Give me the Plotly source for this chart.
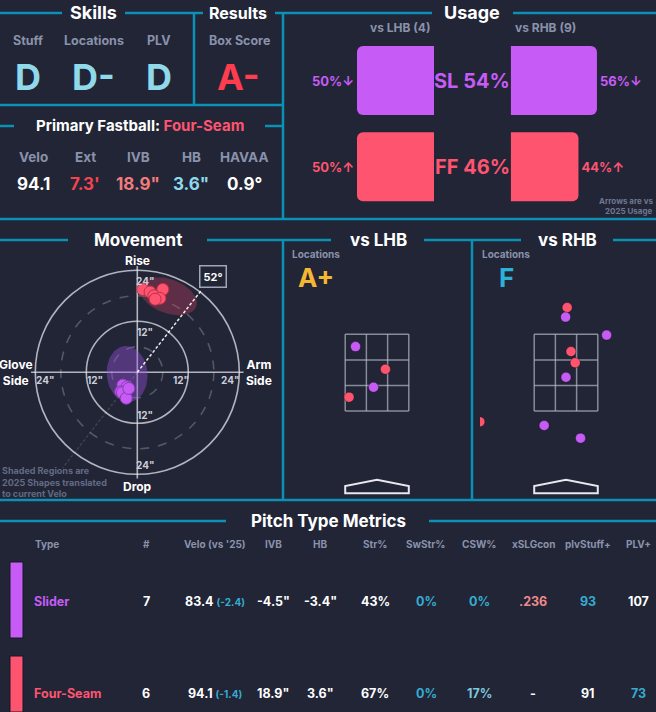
import numpy as np
import plotly.graph_objects as go

W, H = 656, 712

# ---- data ----
skill_names = ["Stuff", "Locations", "PLV"]
skill_grades = ["D", "D-", "D"]
box_score = "A-"

fb_name = "Four-Seam"
fb_labels = ["Velo", "Ext", "IVB", "HB", "HAVAA"]
fb_values = ["94.1", "7.3'", '18.9"', '3.6"', "0.9°"]

pitch_codes = ["SL", "FF"]
usage_all = [54, 46]
usage_lhb = [50, 50]
usage_rhb = [56, 44]
trend_lhb = ["down", "up"]
trend_rhb = ["down", "up"]
n_lhb, n_rhb = 4, 9

# movement (inches)
sl_hb = [-3.4, -2.4, -3.9, -2.8, -3.5, -2.6, -2.0]
sl_ivb = [-3.0, -3.4, -4.6, -5.4, -4.8, -6.1, -3.8]
ff_hb = [1.3, 3.0, 6.0, 3.9, 5.3, 4.2]
ff_ivb = [19.5, 18.9, 19.5, 18.0, 17.4, 17.2]
# 2025 shapes: center hb, center ivb, semi-axis a, semi-axis b, tilt deg
sl_shape = [-2.4, -0.4, 6.6, 4.8, 95]
ff_shape = [7.3, 17.9, 7.0, 4.0, -20]
arm_angle = 52

# locations (feet)
lhb_type = ["SL", "FF", "SL", "FF"]
lhb_x = [-0.56, 0.22, -0.09, -0.73]
lhb_z = [3.18, 2.59, 2.12, 1.86]
rhb_type = ["FF", "SL", "SL", "FF", "FF", "SL", "FF", "SL", "SL"]
rhb_x = [0.03, -0.01, 1.06, 0.13, 0.24, 0.0, -2.25, -0.57, 0.38]
rhb_z = [4.20, 3.95, 3.48, 3.05, 2.76, 2.38, 1.22, 1.12, 0.79]
loc_grades = ["A+", "F"]

# table
table_cols = ["Type", "#", "Velo (vs '25)", "IVB", "HB", "Str%", "SwStr%",
              "CSW%", "xSLGcon", "plvStuff+", "PLV+"]
pitch_names = ["Slider", "Four-Seam"]
counts = [7, 6]
velo = [83.4, 94.1]
velo_diff = [-2.4, -1.4]
ivb = [-4.5, 18.9]
hb = [-3.4, 3.6]
str_pct = [43, 67]
swstr_pct = [0, 0]
csw_pct = [0, 17]
xslgcon = [".236", "-"]
plv_stuff = [93, 91]
plv_plus = [107, 73]

# ---- styles ----
BG = "#212536"
TEAL = "#0b91b5"
GRAY = "#8a92ab"
WHITE = "#ffffff"
CYAN = "#8fd9ea"
BLUE = "#35acd0"
SL_C = "#c65cf5"
FF_C = "#ff5470"
FONT = "Inter"
COLORS = {"SL": SL_C, "FF": FF_C}
fb_colors = [WHITE, "#f2444f", "#f27c7c", CYAN, WHITE]
row_colors = [
    [WHITE, WHITE, WHITE, WHITE, WHITE, BLUE, BLUE, "#f08a8a", BLUE, WHITE],
    [WHITE, WHITE, WHITE, WHITE, WHITE, BLUE, "#7fc9dc", WHITE, WHITE, BLUE],
]

fig = go.Figure()


def px(x):
    return x / W


def py(y):
    return 1 - y / H


def txt(x, y, s, size, color, bold=True, xanchor="center", align="center"):
    fig.add_annotation(x=px(x), y=py(y), xref="paper", yref="paper", text=s,
                       showarrow=False, xanchor=xanchor, yanchor="middle", align=align,
                       font=dict(size=size, color=color, family=FONT,
                                 weight="bold" if bold else "normal"))


def hline(y, x0, x1):
    fig.add_shape(type="line", xref="paper", yref="paper", x0=px(x0), x1=px(x1),
                  y0=py(y), y1=py(y), line=dict(color=TEAL, width=2.5))


def vline(x, y0, y1):
    fig.add_shape(type="line", xref="paper", yref="paper", x0=px(x), x1=px(x),
                  y0=py(y0), y1=py(y1), line=dict(color=TEAL, width=2.5))


# ---- frame lines ----
for y, x0, x1 in [(13, 0, 62), (13, 125, 203), (13, 275, 432), (13, 513, 656),
                  (105, 0, 283), (126, 0, 14), (126, 265, 283), (219, 0, 656),
                  (240, 0, 68), (240, 207, 331), (240, 424, 521), (240, 613, 656),
                  (500, 0, 656), (521, 0, 226), (521, 429, 656)]:
    hline(y, x0, x1)
for x, y0, y1 in [(194, 13, 105), (283, 13, 219), (283, 240, 500), (472, 240, 500)]:
    vline(x, y0, y1)

# ---- skills / results ----
txt(94, 13, "Skills", 18, WHITE)
txt(238, 13, "Results", 16, WHITE)
for i, (name, grade) in enumerate(zip(skill_names, skill_grades)):
    cx = [28, 94, 159][i]
    txt(cx, 40, name, 12.5, GRAY)
    txt(cx, 77, grade, 36, CYAN)
txt(239, 40, "Box Score", 12.5, GRAY)
txt(238, 77, box_score, 36, "#ff3d4e")

txt(140, 126, f"Primary Fastball: <span style='color:{FF_C}'>{fb_name}</span>", 15, WHITE)
for i, (lab, val) in enumerate(zip(fb_labels, fb_values)):
    cx = [33, 85, 138, 191, 244][i]
    txt(cx, 157, lab, 13.5, GRAY)
    txt(cx, 184, val, 17, fb_colors[i])

# ---- usage ----
txt(472, 13, "Usage", 18, WHITE)
txt(400, 28, f"vs LHB ({n_lhb})", 12, GRAY)
txt(545, 28, f"vs RHB ({n_rhb})", 12, GRAY)
arrow = {"down": "↓", "up": "↑"}
for vals, trend, ax in [(usage_lhb, trend_lhb, "2"), (usage_rhb, trend_rhb, "3")]:
    fig.add_trace(go.Bar(
        x=vals, y=pitch_codes, orientation="h", xaxis="x" + ax, yaxis="y" + ax,
        marker=dict(color=[COLORS[c] for c in pitch_codes], cornerradius=6, line_width=0),
        text=[f"{v}%{arrow[t]}" for v, t in zip(vals, trend)],
        textposition="outside", cliponaxis=False,
        textfont=dict(size=13, color=[COLORS[c] for c in pitch_codes], family=FONT, weight="bold"),
        hoverinfo="skip"))
# centre labels sit in the middle of each category band
u_top, u_bot = 37.4, 209.8
band = (u_bot - u_top) / len(pitch_codes)
for i, (code, u) in enumerate(zip(pitch_codes, usage_all)):
    txt(472, u_top + band * (i + 0.5), f"{code} {u}%", 20, COLORS[code])
txt(655, 201, "Arrows are vs", 8, "#6f7790", xanchor="right", align="right")
txt(655, 211, "2025 Usage", 8, "#6f7790", xanchor="right", align="right")

# ---- movement ----
txt(138, 240, "Movement", 17, WHITE)
ring = "rgba(225,228,236,0.75)"
for r, dash, col in [(6, "dash", "rgba(200,204,216,0.3)"), (12, "solid", ring),
                     (18, "dash", "rgba(200,204,216,0.3)"), (24, "solid", ring)]:
    fig.add_shape(type="circle", xref="x", yref="y", x0=-r, x1=r, y0=-r, y1=r,
                  line=dict(color=col, width=1.6, dash=dash), layer="below")
fig.add_shape(type="line", xref="x", yref="y", x0=-25, x1=25, y0=0, y1=0,
              line=dict(color=ring, width=1.6), layer="below")
fig.add_shape(type="line", xref="x", yref="y", x0=0, x1=0, y0=-25, y1=25,
              line=dict(color=ring, width=1.6), layer="below")

t = np.linspace(0, 2 * np.pi, 90)
for shp, fill in [(sl_shape, "rgba(150,80,220,0.42)"), (ff_shape, "rgba(225,65,105,0.32)")]:
    cx, cy, a, b, th = shp
    th = np.radians(th)
    ex = cx + a * np.cos(t) * np.cos(th) - b * np.sin(t) * np.sin(th)
    ey = cy + a * np.cos(t) * np.sin(th) + b * np.sin(t) * np.cos(th)
    fig.add_trace(go.Scatter(x=ex, y=ey, mode="lines", fill="toself", fillcolor=fill,
                             line=dict(width=0), xaxis="x", yaxis="y", hoverinfo="skip"))

ang = np.radians(arm_angle)
fig.add_trace(go.Scatter(x=[0, -28.5 * np.cos(ang)], y=[0, -28.5 * np.sin(ang)], mode="lines",
                         line=dict(color="rgba(255,255,255,0.14)", width=1.3, dash="3px,2px"),
                         xaxis="x", yaxis="y", hoverinfo="skip"))
fig.add_trace(go.Scatter(x=[0, 24.6 * np.cos(ang)], y=[0, 24.6 * np.sin(ang)], mode="lines",
                         line=dict(color="rgba(255,255,255,0.9)", width=1.5, dash="3px,2px"),
                         xaxis="x", yaxis="y", hoverinfo="skip"))
fig.add_annotation(x=24.6 * np.cos(ang), y=24.6 * np.sin(ang), xref="x", yref="y",
                   text=f"{arm_angle}°", showarrow=False, xshift=11, yshift=13,
                   bordercolor="#a0a6b6", borderwidth=1.5, borderpad=3, bgcolor=BG,
                   font=dict(size=11, color=WHITE, family=FONT, weight="bold"))

for xs, ys, code, edge in [(sl_hb, sl_ivb, "SL", "#8a3cb0"), (ff_hb, ff_ivb, "FF", "#c0304a")]:
    fig.add_trace(go.Scatter(x=xs, y=ys, mode="markers", xaxis="x", yaxis="y",
                             marker=dict(size=12, color=COLORS[code], line=dict(color=edge, width=1)),
                             hoverinfo="skip"))

mv_font = dict(size=12, color=WHITE, family=FONT, weight="bold")
tk_font = dict(size=10, color="#c9cdd8", family=FONT, weight="bold")
for x, y, s in [(0, 26.4, "Rise"), (0, -26.8, "Drop"), (-28.6, 0, "Glove<br>Side"),
                (28.6, 0, "Arm<br>Side")]:
    fig.add_annotation(x=x, y=y, xref="x", yref="y", text=s, showarrow=False, font=mv_font)
for x, y in [(1.8, 21.5), (1.8, 9.6), (1.8, -10.0), (1.8, -21.8),
             (-21.7, -1.9), (-10.0, -1.9), (10.3, -1.9), (21.8, -1.9)]:
    lab = "24\"" if max(abs(x), abs(y)) > 15 else "12\""
    fig.add_annotation(x=x, y=y, xref="x", yref="y", text=lab, showarrow=False, font=tk_font)
txt(0, 482, "Shaded Regions are<br>2025 Shapes translated<br>to current Velo", 9,
    "#636b84", xanchor="left", align="left")

# ---- locations ----
txt(378, 240, "vs LHB", 17, WHITE)
txt(567, 240, "vs RHB", 17, WHITE)
for (gx, grade, gcol) in [(316, loc_grades[0], "#f5b731"), (506, loc_grades[1], "#2cb1d8")]:
    txt(gx, 254, "Locations", 10, GRAY)
    txt(gx, 277, grade, 26, gcol)

for xs, zs, types, ax in [(lhb_x, lhb_z, lhb_type, "4"), (rhb_x, rhb_z, rhb_type, "5")]:
    for v in [-0.83, -0.277, 0.277, 0.83]:
        fig.add_shape(type="line", xref="x" + ax, yref="y" + ax, x0=v, x1=v, y0=1.5, y1=3.5,
                      line=dict(color="rgba(190,194,206,0.65)", width=1.5), layer="below")
    for v in [1.5, 2.167, 2.833, 3.5]:
        fig.add_shape(type="line", xref="x" + ax, yref="y" + ax, x0=-0.83, x1=0.83, y0=v, y1=v,
                      line=dict(color="rgba(190,194,206,0.65)", width=1.5), layer="below")
    fig.add_shape(type="path", xref="x" + ax, yref="y" + ax,
                  path="M -0.83 -0.65 L 0.83 -0.65 L 0.83 -0.46 L 0 -0.30 L -0.83 -0.46 Z",
                  line=dict(color="#e8e8ee", width=2), fillcolor=BG)
    fig.add_trace(go.Scatter(x=xs, y=zs, mode="markers", xaxis="x" + ax, yaxis="y" + ax,
                             marker=dict(size=10, color=[COLORS[c] for c in types],
                                         line=dict(color="rgba(0,0,0,0.3)", width=1)),
                             hoverinfo="skip"))

# ---- table ----
txt(328, 521, "Pitch Type Metrics", 17, WHITE)
col_x = [33, 146, 215, 273, 320, 375, 426, 479, 533, 588, 638]
for i, c in enumerate(table_cols):
    txt(col_x[i], 544, c, 10, GRAY, xanchor="left" if i == 0 else "center")
row_y = [601, 693]
for r in range(len(pitch_names)):
    code = pitch_codes[r]
    fig.add_shape(type="rect", xref="paper", yref="paper", x0=px(10), x1=px(23),
                  y0=py([638, 712][r]), y1=py([562, 656][r]),
                  fillcolor=COLORS[code], line=dict(color="#15182a", width=1))
    cells = [str(counts[r]),
             f"{velo[r]} <span style='color:{BLUE};font-size:10px'>({velo_diff[r]})</span>",
             f'{ivb[r]}"', f'{hb[r]}"', f"{str_pct[r]}%", f"{swstr_pct[r]}%",
             f"{csw_pct[r]}%", xslgcon[r], str(plv_stuff[r]), str(plv_plus[r])]
    txt(32, row_y[r], pitch_names[r], 12.5, COLORS[code], xanchor="left")
    for j, s in enumerate(cells):
        txt(col_x[j + 1], row_y[r], s, 12.5, row_colors[r][j])

# ---- axes ----
hide = dict(visible=False, showgrid=False, zeroline=False, fixedrange=True)
c_x, c_y, sc = 137.3, 372.3, 4.25
LS, LC = 38.3, 372.65
fig.update_layout(
    width=W, height=H, margin=dict(l=0, r=0, t=0, b=0),
    paper_bgcolor=BG, plot_bgcolor="rgba(0,0,0,0)", showlegend=False, bargap=0.2,
    xaxis=dict(hide, domain=[0, px(283)], range=[-c_x / sc, (283 - c_x) / sc]),
    yaxis=dict(hide, domain=[py(499), py(250)], range=[(c_y - 499) / sc, (c_y - 250) / sc]),
    xaxis2=dict(hide, domain=[px(300), px(434)], range=[134 / 1.54, 0]),
    yaxis2=dict(hide, domain=[py(u_bot), py(u_top)], type="category",
                categoryorder="array", categoryarray=pitch_codes[::-1]),
    xaxis3=dict(hide, domain=[px(510.7), px(645)], range=[0, 134.3 / 1.54]),
    yaxis3=dict(hide, domain=[py(u_bot), py(u_top)], type="category",
                categoryorder="array", categoryarray=pitch_codes[::-1]),
    xaxis4=dict(hide, domain=[px(290), px(464)], range=[-87 / LS, 87 / LS]),
    yaxis4=dict(hide, domain=[py(499), py(258)], range=[2.5 + (LC - 499) / LS, 2.5 + (LC - 258) / LS]),
    xaxis5=dict(hide, domain=[px(480), 1], range=[-86 / LS, 90 / LS]),
    yaxis5=dict(hide, domain=[py(499), py(258)], range=[2.5 + (LC - 499) / LS, 2.5 + (LC - 258) / LS]),
)

fig.write_html("out.html", config={"displayModeBar": False},
               post_script="document.body.style.margin='0';")
